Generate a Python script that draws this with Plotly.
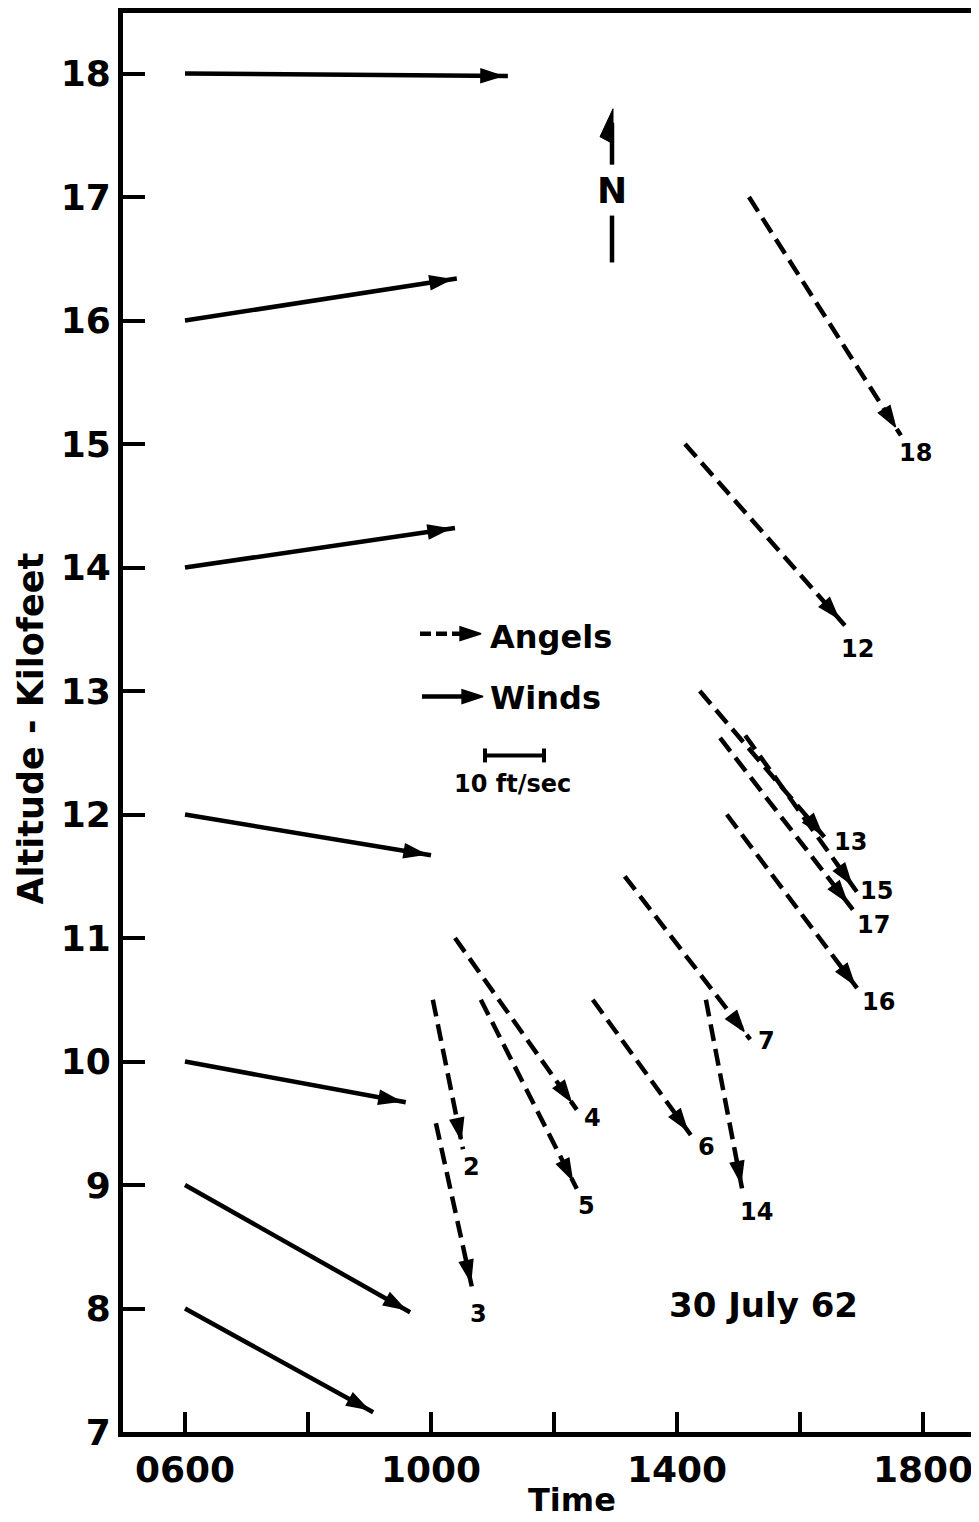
import math
import plotly.graph_objects as go

# ---------------- data ----------------
# Winds: solid arrows starting at 0600 (hours) at each altitude (kilofeet)
wind_alt = [18, 16, 14, 12, 10, 9, 8]
wind_start_time = [6.0, 6.0, 6.0, 6.0, 6.0, 6.0, 6.0]
wind_end_time = [11.25, 10.42, 10.39, 10.00, 9.59, 9.66, 9.06]
wind_end_alt = [17.98, 16.34, 14.32, 11.67, 9.67, 7.97, 7.16]

# Angels: dashed arrows, numbered
angel_ids = ["2", "3", "4", "5", "6", "7", "12", "13", "14", "15", "16", "17", "18"]
angel_start_time = [10.03, 10.08, 10.39, 10.81, 12.63, 13.15, 14.13, 14.37, 14.47, 15.11, 14.81, 14.70, 15.17]
angel_start_alt = [10.5, 9.5, 11.0, 10.5, 10.5, 11.5, 15.0, 13.0, 10.5, 12.64, 12.0, 12.62, 17.0]
angel_end_time = [10.52, 10.68, 12.37, 12.37, 14.26, 15.19, 16.73, 16.46, 15.07, 16.93, 16.98, 16.86, 17.64]
angel_end_alt = [9.29, 8.14, 9.61, 8.97, 9.38, 10.18, 13.53, 11.78, 8.94, 11.37, 10.56, 11.23, 15.07]

time_ticks = [6, 8, 10, 12, 14, 16, 18]
time_tick_text = ["0600", "", "1000", "", "1400", "", "1800"]
alt_ticks = [7, 8, 9, 10, 11, 12, 13, 14, 15, 16, 17, 18]

# ---------------- layout constants ----------------
# the page body adds an 8px margin, so the figure is laid out in page pixels minus 8
OFF = 8
PAGE_W, PAGE_H = 979, 1522
W, H = PAGE_W - OFF, PAGE_H - OFF
PLOT_L, PLOT_T, PLOT_B = 123, 10, 1432          # plot area edges in page pixels
ML, MT, MR = PLOT_L - OFF, PLOT_T - OFF, 0
MB = H - (PLOT_B - OFF)
PW, PH = W - ML - MR, PLOT_B - PLOT_T
PX_PER_H = 61.5
X0 = 6 - (185 - PLOT_L) / PX_PER_H
X_RANGE = [X0, X0 + PW / PX_PER_H]
Y_RANGE = [7.0, 18.49]
PX_PER_K = PH / (Y_RANGE[1] - Y_RANGE[0])

FONT = "DejaVu Sans"
BLACK = "black"
HEAD = dict(symbol="arrow", color=BLACK, opacity=1, angleref="previous",
            line=dict(width=1.5, color=BLACK))

# label offsets in px (right, down) from the arrow end
label_offsets = {"2": (9, 18), "3": (6, 23), "4": (16, 8), "5": (10, 17), "6": (14, 9),
                 "7": (16, 2), "12": (13, 23), "13": (22, 0), "14": (14, 20),
                 "15": (19, -1), "16": (18, 10), "17": (21, 15), "18": (15, 18)}


def head_point(xs, ys, xe, ye, back):
    dx = (xe - xs) * PX_PER_H
    dy = (ye - ys) * PX_PER_K
    L = math.hypot(dx, dy)
    return xe - back * dx / L / PX_PER_H, ye - back * dy / L / PX_PER_K


fig = go.Figure()

# winds
for xs, ys, xe, ye in zip(wind_start_time, wind_alt, wind_end_time, wind_end_alt):
    xh, yh = head_point(xs, ys, xe, ye, 6)
    fig.add_trace(go.Scatter(
        x=[xs, xh, xe], y=[ys, yh, ye], mode="lines+markers",
        line=dict(color=BLACK, width=4.5, backoff=0),
        marker=dict(size=[0, 22, 0], **HEAD),
        showlegend=False, hoverinfo="skip"))

# angels
annotations = []
for aid, xs, ys, xe, ye in zip(angel_ids, angel_start_time, angel_start_alt,
                               angel_end_time, angel_end_alt):
    xh, yh = head_point(xs, ys, xe, ye, 10)
    fig.add_trace(go.Scatter(
        x=[xs, xh, xe], y=[ys, yh, ye], mode="lines+markers",
        line=dict(color=BLACK, width=4.5, dash="17px,8px", backoff=0),
        marker=dict(size=[0, 22, 0], **HEAD),
        showlegend=False, hoverinfo="skip"))
    ox, oy = label_offsets[aid]
    annotations.append(dict(x=xe, y=ye, xref="x", yref="y", text=aid, showarrow=False,
                            xshift=ox, yshift=-oy,
                            font=dict(family=FONT, size=24, color=BLACK, weight="bold")))


# ---------------- in-plot legend, scale and north arrow (paper-like overlay axes) --------
def px2p(px, py):
    return (px - PLOT_L) / PW, (PLOT_B - py) / PH


def seg(p0, p1, dash=None, width=4.5):
    (x0, y0), (x1, y1) = px2p(*p0), px2p(*p1)
    fig.add_trace(go.Scatter(x=[x0, x1], y=[y0, y1], xaxis="x2", yaxis="y2", mode="lines",
                             line=dict(color=BLACK, width=width, dash=dash),
                             showlegend=False, hoverinfo="skip"))


def head(p0, p1, size=22):
    (x0, y0), (x1, y1) = px2p(*p0), px2p(*p1)
    fig.add_trace(go.Scatter(x=[x0, x1], y=[y0, y1], xaxis="x2", yaxis="y2", mode="markers",
                             marker=dict(size=[0, size], **HEAD),
                             showlegend=False, hoverinfo="skip"))


# Angels legend (dashed arrow)
seg((420, 632), (472, 632), dash="11px,5px")
head((420, 632), (481, 632))
# Winds legend (solid arrow)
seg((422, 695), (474, 695))
head((422, 695), (483, 695))
# scale bar
seg((485, 754), (544, 754), width=4)
seg((485, 747), (485, 761), width=4)
seg((544, 747), (544, 761), width=4)
# north arrow
seg((612, 120), (612, 162))
seg((612, 213), (612, 260))
tri = [px2p(613, 106), px2p(600, 134), px2p(613, 141), px2p(613, 106)]
fig.add_trace(go.Scatter(x=[p[0] for p in tri], y=[p[1] for p in tri], xaxis="x2", yaxis="y2",
                         mode="lines", fill="toself", fillcolor=BLACK,
                         line=dict(color=BLACK, width=1), showlegend=False, hoverinfo="skip"))


def ptext(px, py, text, size, xanchor="center", textangle=0):
    x, y = px2p(px, py)
    annotations.append(dict(x=x, y=y, xref="paper", yref="paper", text=text, showarrow=False,
                            xanchor=xanchor, yanchor="middle", textangle=textangle,
                            font=dict(family=FONT, size=size, color=BLACK, weight="bold")))


ptext(488, 635, "Angels", 32, xanchor="left")
ptext(488, 696, "Winds", 32, xanchor="left")
ptext(512, 783, "10 ft/sec", 24)
ptext(612, 188, "N", 36)
ptext(763, 1305, "30 July 62", 34)
ptext(572, 1500, "Time", 32)
ptext(31, 727, "Altitude - Kilofeet", 35, textangle=-90)

fig.update_layout(
    width=W, height=H,
    margin=dict(l=ML, r=MR, t=MT, b=MB, pad=0),
    plot_bgcolor="white", paper_bgcolor="white",
    font=dict(family=FONT, color=BLACK),
    showlegend=False,
    annotations=annotations,
    xaxis=dict(range=X_RANGE, tickvals=time_ticks, ticktext=time_tick_text,
               ticks="inside", ticklen=20, tickwidth=4, tickcolor=BLACK,
               showline=True, linewidth=5, linecolor=BLACK, mirror=True,
               showgrid=False, zeroline=False, ticklabelstandoff=2,
               tickfont=dict(family=FONT, size=36, color=BLACK, weight="bold")),
    yaxis=dict(range=Y_RANGE, tickvals=alt_ticks,
               ticks="inside", ticklen=22, tickwidth=4, tickcolor=BLACK,
               showline=True, linewidth=5, linecolor=BLACK,
               showgrid=False, zeroline=False, ticklabelstandoff=0,
               tickfont=dict(family=FONT, size=36, color=BLACK, weight="bold")),
    xaxis2=dict(range=[0, 1], overlaying="x", anchor="y2", visible=False),
    yaxis2=dict(range=[0, 1], overlaying="y", anchor="x2", visible=False),
)

fig.write_html("out.html")
